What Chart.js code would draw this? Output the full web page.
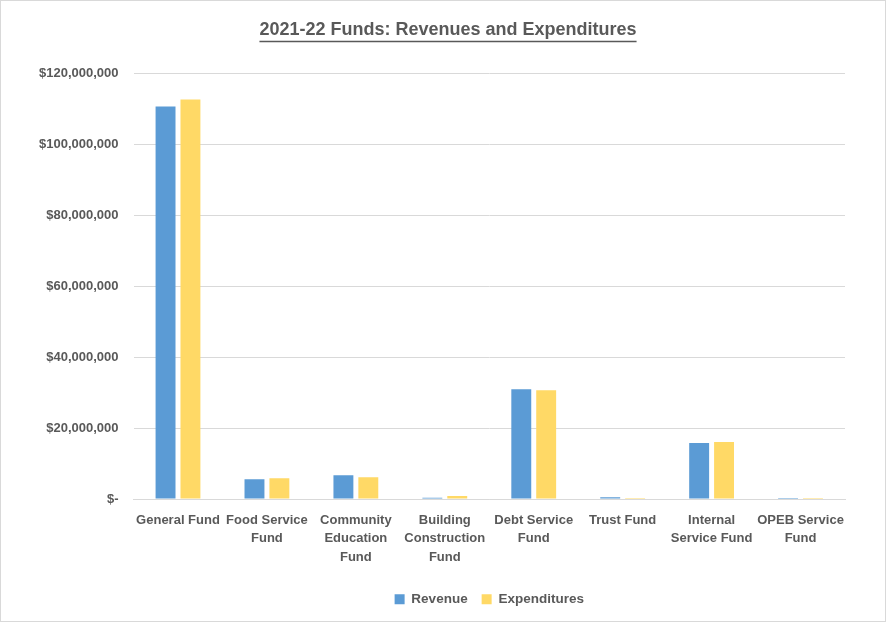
<!DOCTYPE html>
<html>
<head>
<meta charset="utf-8">
<title>2021-22 Funds: Revenues and Expenditures</title>
<script src="https://cdn.jsdelivr.net/npm/chart.js@4"></script>
<style>
    html, body { margin: 0; padding: 0; background: #fff; }
    .chart-box {
        width: 884px;
        height: 620px;
        border: 1px solid #d9d9d9;
        position: relative;
    }
</style>
</head>
<body>
<div class="chart-box">
    <canvas id="fundsChart"></canvas>
</div>
<script>
// Fund categories (multi-line labels as drawn under the axis)
const categories = [
    ['General Fund'],
    ['Food Service', 'Fund'],
    ['Community', 'Education', 'Fund'],
    ['Building', 'Construction', 'Fund'],
    ['Debt Service', 'Fund'],
    ['Trust Fund'],
    ['Internal', 'Service Fund'],
    ['OPEB Service', 'Fund']
];

// Dollar amounts per fund
const revenue = [110700000, 5600000, 6700000, 400000, 31000000, 550000, 15800000, 300000];
const expenditures = [112700000, 5900000, 6200000, 850000, 30700000, 300000, 16100000, 300000];

// Y axis ticks
const yTicks = [0, 20000000, 40000000, 60000000, 80000000, 100000000, 120000000];

const revenueBlue = '#5B9BD5';
const expendYellow = '#FFD966';
const textGray = '#595959';
const FONT = '"Liberation Sans", Arial, sans-serif';
const TITLE_SIZE = 18;

// Title centred on the whole chart, legend centred under the plot area
const recenterBlocks = {
    id: 'recenterBlocks',
    afterLayout(chart) {
        const tb = chart.titleBlock;
        if (tb) {
            tb.left = 10;
            tb.right = chart.width;
        }
        const lg = chart.legend;
        if (lg) {
            lg.left = chart.chartArea.left;
            lg.right = chart.chartArea.right;
        }
    }
};

// Excel-style underline beneath the chart title
const titleUnderline = {
    id: 'titleUnderline',
    afterDraw(chart) {
        const tb = chart.titleBlock;
        if (!tb) return;
        const ctx = chart.ctx;
        ctx.save();
        ctx.font = 'bold ' + TITLE_SIZE + 'px ' + FONT;
        const w = ctx.measureText(chart.options.plugins.title.text).width;
        const cx = (tb.left + tb.right) / 2;
        const y = tb.top + tb.height - tb.options.padding.bottom + 1;
        ctx.strokeStyle = textGray;
        ctx.lineWidth = 1.5;
        ctx.beginPath();
        ctx.moveTo(cx - w / 2, y);
        ctx.lineTo(cx + w / 2, y);
        ctx.stroke();
        ctx.restore();
    }
};

const ctx = document.getElementById('fundsChart').getContext('2d');
new Chart(ctx, {
    type: 'bar',
    data: {
        labels: categories,
        datasets: [
            {
                label: 'Revenue',
                data: revenue,
                backgroundColor: revenueBlue,
                categoryPercentage: 0.56,
                barPercentage: 0.8
            },
            {
                label: 'Expenditures',
                data: expenditures,
                backgroundColor: expendYellow,
                categoryPercentage: 0.56,
                barPercentage: 0.8
            }
        ]
    },
    options: {
        responsive: true,
        maintainAspectRatio: false,
        animation: false,
        layout: {
            padding: { top: 13, right: 40, left: 23, bottom: 5 }
        },
        plugins: {
            title: {
                display: true,
                text: '2021-22 Funds: Revenues and Expenditures',
                color: textGray,
                font: { family: FONT, size: TITLE_SIZE, weight: 'bold' },
                padding: { top: 5, bottom: 33 }
            },
            legend: {
                position: 'bottom',
                labels: {
                    color: textGray,
                    font: { family: FONT, size: 13.5, weight: 'bold' },
                    boxWidth: 10,
                    boxHeight: 10,
                    padding: 14
                }
            },
            tooltip: { enabled: false }
        },
        scales: {
            x: {
                grid: { display: false, drawTicks: false },
                border: { display: true, color: '#d9d9d9' },
                ticks: {
                    color: textGray,
                    padding: 12,
                    maxRotation: 0,
                    autoSkip: false,
                    font: { family: FONT, size: 13, weight: 'bold', lineHeight: 1.42 }
                }
            },
            y: {
                min: 0,
                max: 120000000,
                afterBuildTicks(axis) {
                    axis.ticks = yTicks.map(v => ({ value: v }));
                },
                grid: { color: '#d9d9d9', drawTicks: false },
                border: { display: false },
                ticks: {
                    color: textGray,
                    padding: 15,
                    font: { family: FONT, size: 13, weight: 'bold' },
                    callback: v => v === 0 ? '$-' : '$' + v.toLocaleString('en-US')
                }
            }
        }
    },
    plugins: [recenterBlocks, titleUnderline]
});
</script>
</body>
</html>
